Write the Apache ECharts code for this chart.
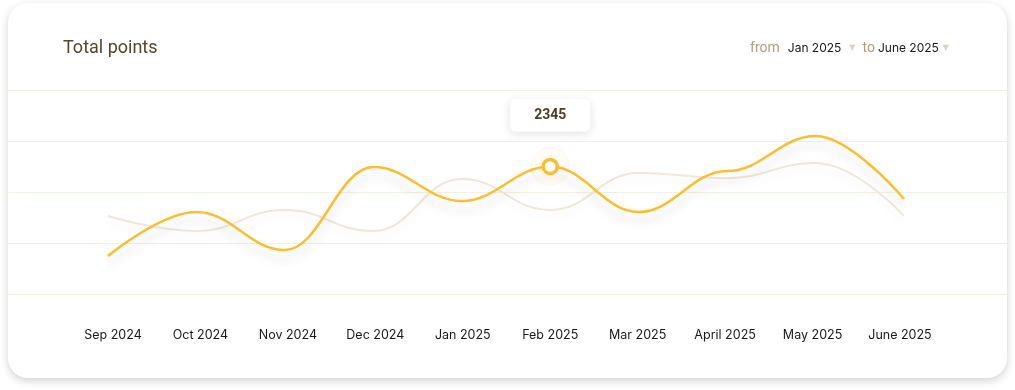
<!DOCTYPE html>
<html>
<head>
<meta charset="utf-8">
<script src="https://cdn.jsdelivr.net/npm/echarts@6/dist/echarts.min.js"></script>
<style>
  html, body { margin: 0; padding: 0; background: #ffffff; }
  #card { position: absolute; left: 8px; top: 3px; width: 999px; height: 375px; border-radius: 20px;
          background: #ffffff; box-shadow: 0 3px 9px rgba(0,0,0,0.18); }
  #chart { position: absolute; left: 0; top: 0; width: 1015px; height: 390px; }
</style>
</head>
<body>
<div id="card"></div>
<div id="chart"></div>
<script>
const categories = ['Sep 2024', 'Oct 2024', 'Nov 2024', 'Dec 2024', 'Jan 2025', 'Feb 2025', 'Mar 2025', 'April 2025', 'May 2025', 'June 2025'];
const currentValues = [698, 1507, 809, 2335, 1710, 2345, 1507, 2260, 2904, 1746];
const previousValues = [1434, 1158, 1544, 1158, 2114, 1544, 2224, 2130, 2408, 1434];
const highlightIndex = 5;
const titleText = 'Total points';
const fromLabel = 'Jan 2025';
const toLabel = 'June 2025';

const YELLOW = '#fdbd2c';
const chart = echarts.init(document.getElementById('chart'), null, { renderer: 'canvas' });

const currentData = currentValues.map((v, i) => i === highlightIndex ? {
  value: v,
  symbol: 'circle',
  symbolSize: 14,
  itemStyle: { color: '#ffffff', borderColor: YELLOW, borderWidth: 3.5 },
  label: {
    show: true, position: 'top', distance: 26,
    formatter: '{c}',
    fontFamily: 'Roboto', fontWeight: 'bold', fontSize: 14, color: '#4b3f2a',
    backgroundColor: '#ffffff', borderRadius: 6,
    padding: [10, 24, 9, 24],
    shadowColor: 'rgba(0,0,0,0.12)', shadowBlur: 10, shadowOffsetY: 2
  }
} : { value: v, symbol: 'none' });

chart.setOption({
  animation: false,
  title: [{
    text: titleText, left: 63, top: 39, padding: 0,
    textStyle: { fontFamily: 'Roboto', fontSize: 18, fontWeight: 'normal', color: '#54462c' }
  }, {
    text: '{f1|from}{d|' + fromLabel + '}{a1|▼}{f2|to}{d|' + toLabel + '}{a2|▼}',
    right: 66, top: 41, padding: 0,
    textStyle: {
      fontWeight: 'normal',
      rich: {
        f1: { fontFamily: 'Roboto', fontSize: 14, fontWeight: 'normal', color: '#b09c80', padding: [0, 8, 0, 0] },
        f2: { fontFamily: 'Roboto', fontSize: 14, fontWeight: 'normal', color: '#b09c80', padding: [0, 3, 0, 0] },
        d: { fontFamily: 'Inter', fontSize: 12, fontWeight: 'normal', color: '#1a1a1a' },
        a1: { fontFamily: 'DejaVu Sans', fontSize: 8, fontWeight: 'normal', color: '#dcd2c4', padding: [0, 7, 0, 8] },
        a2: { fontFamily: 'DejaVu Sans', fontSize: 8, fontWeight: 'normal', color: '#dcd2c4', padding: [0, 0, 0, 4] }
      }
    }
  }],
  grid: [
    { left: 8, right: 8, top: 90, height: 204 },
    { left: 108, right: 111, top: 90, height: 204 },
    { left: 113, right: 115, top: 90, height: 204 }
  ],
  xAxis: [
    { gridIndex: 0, type: 'value', min: 0, max: 1, show: false },
    { gridIndex: 1, type: 'category', data: categories, boundaryGap: false, show: false },
    { gridIndex: 2, type: 'category', data: categories, boundaryGap: false,
      axisLine: { show: false }, axisTick: { show: false }, splitLine: { show: false },
      axisLabel: { margin: 35, fontFamily: 'Inter', fontSize: 12.5, color: '#1a1a1a' } }
  ],
  yAxis: [
    { gridIndex: 0, type: 'value', min: 0, max: 4, interval: 1,
      axisLine: { show: false }, axisTick: { show: false }, axisLabel: { show: false },
      splitLine: { show: true, lineStyle: { color: '#f3efe3', width: 1 } } },
    { gridIndex: 1, type: 'value', min: 0, max: 3750, show: false, splitLine: { show: false } },
    { gridIndex: 2, type: 'value', min: 0, max: 1, show: false, splitLine: { show: false } }
  ],
  series: [
    {
      name: 'previous', type: 'line', xAxisIndex: 1, yAxisIndex: 1,
      data: previousValues, smooth: 0.45, smoothMonotone: 'x', symbol: 'none', z: 2,
      lineStyle: { color: '#efe8da', width: 2, shadowColor: 'rgba(0,0,0,0.06)', shadowBlur: 8, shadowOffsetY: 6 }
    },
    {
      name: 'current', type: 'line', xAxisIndex: 1, yAxisIndex: 1,
      data: currentData, smooth: 0.4, smoothMonotone: 'x', symbol: 'none', showSymbol: true, z: 3,
      lineStyle: { color: YELLOW, width: 2.5, shadowColor: 'rgba(0,0,0,0.13)', shadowBlur: 10, shadowOffsetY: 9 },
      markPoint: {
        silent: true, z: 1,
        data: [
          { coord: [highlightIndex, currentValues[highlightIndex]], symbol: 'circle', symbolSize: 38,
            itemStyle: { color: 'rgba(253,189,44,0.04)', borderColor: 'rgba(253,189,44,0.1)', borderWidth: 1 },
            label: { show: false } },
          { coord: [highlightIndex, currentValues[highlightIndex]], symbol: 'triangle', symbolSize: [10, 6],
            symbolRotate: 180, symbolOffset: [0, -30],
            itemStyle: { color: '#ffffff' }, label: { show: false } }
        ]
      }
    }
  ]
});
</script>
</body>
</html>
